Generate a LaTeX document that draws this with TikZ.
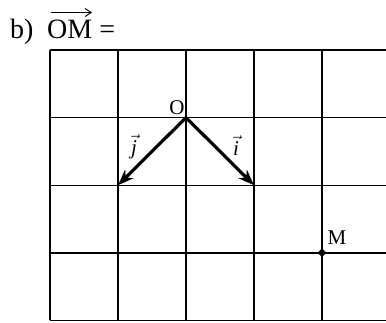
\documentclass[tikz,border=0pt]{standalone}
\usepackage{fontspec}
\setmainfont{Liberation Serif}
\usetikzlibrary{arrows.meta,shapes.geometric}
\begin{document}
\begin{tikzpicture}[x=1pt,y=-1pt,
  gridline/.style={line width=1.4pt,black},
  vecarrow/.style={line width=3.2pt,-{Stealth[length=16pt,width=12pt]}},
  lbl/.style={inner sep=0pt,font=\fontsize{21}{24}\selectfont},
  title/.style={inner sep=0pt,font=\fontsize{28}{32}\selectfont}]
\useasboundingbox (0,0) rectangle (386,322);
\begin{scope}
\clip (0,0) rectangle (386,322);
\foreach \i in {0,...,5} {
  \draw[gridline] ({50+68*\i},50) -- ({50+68*\i},320.4);
}
\foreach \j in {0,...,4} {
  \draw[gridline] (50,{50+67.6*\j}) -- (400,{50+67.6*\j});
}
\end{scope}
\coordinate (O) at (186,117.6);
\coordinate (J) at (118,185.2);
\coordinate (I) at (254,185.2);
\node[diamond,fill=black,inner sep=0pt,minimum size=9pt] (M) at (322,252.8) {};
\draw[vecarrow] (O) -- (J);
\draw[vecarrow] (O) -- (I);
\node[lbl] (Olbl) at (177,108) {O};
\node[lbl] (Mlbl) at (337,238) {M};
\node[lbl] (ilbl) at (236,146) {$\vec{\mbox{\itshape i}}$};
\node[lbl] (jlbl) at (134,147) {$\vec{\mbox{\itshape j}}$};
\node[title,anchor=base west] (b) at (10,38) {b)};
\node[title,anchor=base west] (om) at (47,38) {OM =};
\coordinate (a1) at (51,12.5);
\coordinate (a2) at (92,12.5);
\draw[line width=1pt,-{Straight Barb[length=6pt,width=8pt]}] (a1) -- (a2);
\end{tikzpicture}
\end{document}
